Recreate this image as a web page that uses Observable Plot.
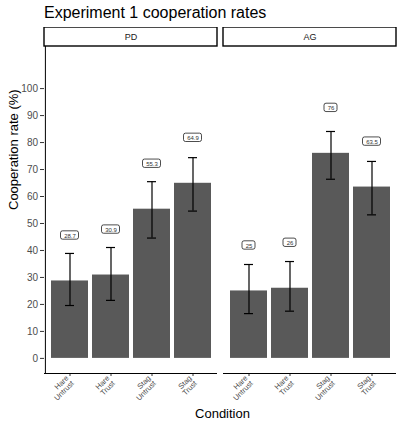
<!DOCTYPE html>
<html>
<head>
<meta charset="utf-8">
<script src="https://cdn.jsdelivr.net/npm/d3@7"></script>
<script src="https://cdn.jsdelivr.net/npm/@observablehq/plot@0.6"></script>
<style>
  body { margin: 0; background: #fff; font-family: "Liberation Sans", Arial, sans-serif; }
  #title { height: 27px; padding-left: 44px; font-size: 16px; line-height: 25px; color: #000; box-sizing: border-box; white-space: nowrap; }
  #chart svg { display: block; }
</style>
</head>
<body>
<div id="title">Experiment 1 cooperation rates</div>
<div id="chart"></div>
<script>
const games = ["PD", "AG"];
const conditions = ["Hare Untrust", "Hare Trust", "Stag Untrust", "Stag Trust"];
const pdMeans = [28.7, 30.9, 55.3, 64.9];
const agMeans = [25, 26, 76, 63.5];
const pdLow = [19.6, 21.5, 44.6, 54.6];
const pdHigh = [38.9, 41.1, 65.5, 74.4];
const agLow = [16.6, 17.5, 66.4, 53.2];
const agHigh = [34.8, 35.9, 84.1, 73.0];
const yTicks = [0, 10, 20, 30, 40, 50, 60, 70, 80, 90, 100];

const means = [pdMeans, agMeans];
const lows = [pdLow, agLow];
const highs = [pdHigh, agHigh];
const rows = games.flatMap((g, i) => conditions.map((c, j) => ({
  game: g, condition: c, mean: means[i][j], low: lows[i][j], high: highs[i][j],
  label: String(means[i][j]), labelY: means[i][j] + 16.8
})));
const longLabels = rows.filter(d => d.label.length > 2);
const shortLabels = rows.filter(d => d.label.length <= 2);
const strips = games.map(g => ({game: g}));

const yBottom = -5.6, yTop = 115.6, stripTop = 122.64;
const font = "Liberation Sans, Arial, sans-serif";

const chart = Plot.plot({
  width: 398,
  height: 403,
  marginTop: 19,
  marginBottom: 57,
  marginLeft: 44,
  marginRight: 2,
  style: {fontFamily: font, background: "#fff"},
  fx: {domain: games, paddingInner: 0.034, paddingOuter: 0, axis: null, label: null},
  x: {domain: conditions, paddingInner: 0.1, paddingOuter: 0.15, label: null},
  y: {domain: [yBottom, yTop], label: null},
  marks: [
    Plot.barY(rows, {fx: "game", x: "condition", y: "mean", fill: "#595959"}),
    Plot.ruleX(rows, {fx: "game", x: "condition", y1: "low", y2: "high", stroke: "#000", strokeWidth: 1.2}),
    Plot.tickY(rows, {fx: "game", x: "condition", y: "low", stroke: "#000", strokeWidth: 1.2, insetLeft: 14, insetRight: 14}),
    Plot.tickY(rows, {fx: "game", x: "condition", y: "high", stroke: "#000", strokeWidth: 1.2, insetLeft: 14, insetRight: 14}),
    Plot.rect(longLabels, {fx: "game", x: "condition", y1: d => d.labelY - 1.5, y2: d => d.labelY + 1.6, fill: "#fff", stroke: "#000", strokeWidth: 0.7, rx: 2, insetLeft: 9.5, insetRight: 9.5}),
    Plot.rect(shortLabels, {fx: "game", x: "condition", y1: d => d.labelY - 1.5, y2: d => d.labelY + 1.6, fill: "#fff", stroke: "#000", strokeWidth: 0.7, rx: 2, insetLeft: 12, insetRight: 12}),
    Plot.text(rows, {fx: "game", x: "condition", y: "labelY", text: "label", fontSize: 6, fill: "#333", dy: 0.5}),
    Plot.axisY({ticks: yTicks, tickSize: 4, tickPadding: 2.5, fontSize: 10, fill: "#4d4d4d", stroke: "#333", label: null, tickFormat: d => String(d)}),
    Plot.axisX({tickSize: 3, tickPadding: 3, fontSize: 7.5, fill: "#4d4d4d", stroke: "#333", label: null, tickRotate: -45, tickFormat: d => d.replace(" ", "\n")}),
    Plot.ruleY([yBottom], {stroke: "#000", strokeWidth: 1}),
    Plot.ruleX([{game: "PD"}], {fx: "game", x: () => conditions[0], dx: -24.6, y1: yBottom, y2: yTop, stroke: "#000", strokeWidth: 1}),
    Plot.rect(strips, {fx: "game", y1: yTop, y2: stripTop, fill: "#fff", stroke: "#000", strokeWidth: 1.4}),
    Plot.text(strips, {fx: "game", y: (yTop + stripTop) / 2, text: "game", fontSize: 9, fill: "#1a1a1a"}),
    Plot.text([{game: "PD"}], {fx: "game", frameAnchor: "left", rotate: -90, dx: -31, text: () => "Cooperation rate (%)", fontSize: 13, fill: "#000"}),
    Plot.text([{game: "AG"}], {fx: "game", frameAnchor: "bottom-left", dx: -1, dy: 44, text: () => "Condition", fontSize: 13, fill: "#000", textAnchor: "middle"})
  ]
});
document.getElementById("chart").appendChild(chart);
</script>
</body>
</html>
